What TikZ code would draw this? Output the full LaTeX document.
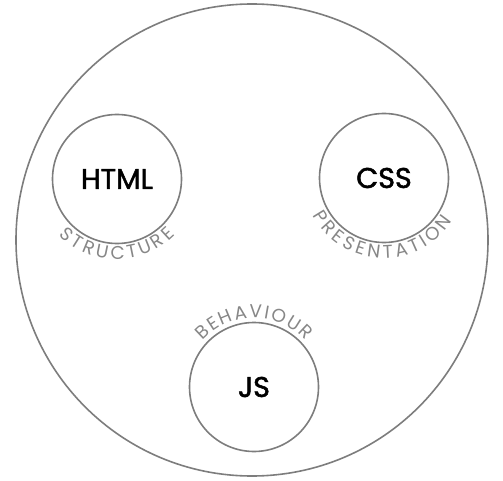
\documentclass[tikz,border=0pt]{standalone}
\usepackage{fontspec}
\setmainfont{Poppins}
\newfontfamily\techfont{Poppins}[FakeBold=1.8]
\usetikzlibrary{decorations.text}
\definecolor{ringgray}{RGB}{125,125,125}
\definecolor{labelgray}{RGB}{135,135,135}
\newcommand{\lblfont}{\fontsize{18.5}{18.5}\selectfont\color{labelgray}}
\tikzset{
  x=1pt, y=1pt,
  ring/.style={draw=ringgray, line width=1.6pt, circle, inner sep=0pt, minimum size=#1},
  ring/.default=129pt,
  techlabel/.style={font=\techfont\fontsize{28.5}{28.5}\selectfont, text=black},
  arclabel/.style={decorate, decoration={text along path, text align={fit to path}, text={|\lblfont|#1}}}
}
\begin{document}
\begin{tikzpicture}
\useasboundingbox (0,0) rectangle (503,480);
\node[ring=472pt] (outer) at (252,240) {};
\node[ring, techlabel] (html) at (117,301) {HTML};
\node[ring, techlabel] (css) at (384,302) {CSS};
\node[ring, techlabel] (js) at (254,93) {JS};
\path[arclabel={STRUCTURE}] ([shift={(224:80.5)}]html.center) arc[start angle=224, end angle=316, radius=80.5];
\path[arclabel={PRESENTATION}] ([shift={(208:80.5)}]css.center) arc[start angle=208, end angle=328, radius=80.5];
\path[arclabel={BEHAVIOUR}] ([shift={(138:69)}]js.center) arc[start angle=138, end angle=42, radius=69];
\end{tikzpicture}
\end{document}
